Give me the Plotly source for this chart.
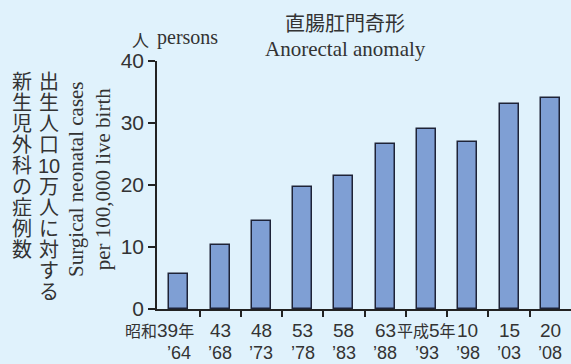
import plotly.graph_objects as go

# ---- data ----
era_labels = ["昭和39年", "43", "48", "53", "58", "63", "平成5年", "10", "15", "20"]
year_labels = ["’64", "’68", "’73", "’78", "’83", "’88", "’93", "’98", "’03", "’08"]
cases = [5.6, 10.3, 14.2, 19.7, 21.4, 26.6, 29.1, 27.0, 33.0, 34.0]
y_ticks = [0, 10, 20, 30, 40]

title_jp = "直腸肛門奇形"
title_en = "Anorectal anomaly"
ytitle_jp_1 = ["出", "生", "人", "口", "10", "万", "人", "に", "対", "す", "る"]
ytitle_jp_2 = ["新", "生", "児", "外", "科", "の", "症", "例", "数"]
ytitle_en = "Surgical neonatal cases<br>per 100,000 live birth"

# ---- layout geometry ----
W, H = 571, 364
ML, MR, MT, MB = 157, 0, 61, 55
PW, PH = W - ML - MR, H - MT - MB

def py(p):
    return (H - MB - p) / PH

def px(p):
    return (p - ML) / PW

BG = "rgb(224,242,252)"
TXT = "#333333"
SANS = "Liberation Sans, Arial, Noto Sans CJK JP"
CJK = "Noto Sans CJK JP"
SERIF = "Liberation Serif, Times New Roman, serif"

def cjk_small(s, size=16):
    out, buf = "", ""
    for ch in s:
        if ord(ch) > 0x2E80:
            buf += ch
        else:
            if buf:
                out += f"<span style='font-size:{size}px'>{buf}</span>"
                buf = ""
            out += ch
    if buf:
        out += f"<span style='font-size:{size}px'>{buf}</span>"
    return out

xs = list(range(len(cases)))

fig = go.Figure()
fig.add_trace(go.Bar(
    x=xs, y=cases, width=0.46,
    marker=dict(color="rgb(127,159,212)", line=dict(color="rgb(30,35,55)", width=1.5)),
    hoverinfo="skip", showlegend=False,
))

annotations = []
# x-axis labels (two rows)
for i, (a, b) in enumerate(zip(era_labels, year_labels)):
    common = dict(y=py(330), xref="x", yref="paper", text=cjk_small(a),
                  yanchor="middle", showarrow=False,
                  font=dict(family=SANS, size=19, color=TXT))
    if i == 0:
        annotations.append(dict(x=i, xanchor="right", xshift=17, **common))
    else:
        annotations.append(dict(x=i, xanchor="center", **common))
    annotations.append(dict(x=i, y=py(353), xref="x", yref="paper", text=b,
                            xanchor="center", yanchor="middle",
                            showarrow=False, font=dict(family=SANS, size=18, color=TXT)))

# titles
annotations.append(dict(x=px(345), y=py(23), xref="paper", yref="paper", text=title_jp,
                        showarrow=False, xanchor="center", yanchor="middle",
                        font=dict(family=CJK, size=20, color=TXT)))
annotations.append(dict(x=px(345), y=py(49), xref="paper", yref="paper", text=title_en,
                        showarrow=False, xanchor="center", yanchor="middle",
                        font=dict(family=SERIF, size=21, color=TXT)))
# unit
annotations.append(dict(x=px(140), y=py(40), xref="paper", yref="paper", text="人",
                        showarrow=False, xanchor="center", yanchor="middle",
                        font=dict(family=CJK, size=17, color=TXT)))
annotations.append(dict(x=px(155), y=py(38), xref="paper", yref="paper", text="persons",
                        showarrow=False, xanchor="left", yanchor="middle",
                        font=dict(family=SERIF, size=20, color=TXT)))
# english y title (rotated)
annotations.append(dict(x=px(89), y=py(179), xref="paper", yref="paper", text=ytitle_en,
                        showarrow=False, xanchor="center", yanchor="middle", textangle=-90,
                        font=dict(family=SERIF, size=21, color=TXT)))
# vertical japanese y title
for col, cx in ((ytitle_jp_1, 49), (ytitle_jp_2, 22)):
    for k, ch in enumerate(col):
        annotations.append(dict(x=px(cx), y=py(82 + 21 * k), xref="paper", yref="paper",
                                text=ch, showarrow=False, xanchor="center", yanchor="middle",
                                font=dict(family="Liberation Sans, " + CJK, size=20, color=TXT)))

fig.update_layout(
    width=W, height=H,
    margin=dict(l=ML, r=MR, t=MT, b=MB, pad=0),
    paper_bgcolor=BG, plot_bgcolor=BG,
    annotations=annotations,
    bargap=0,
    xaxis=dict(range=[-0.53, 9.5], showgrid=False, zeroline=False,
               showline=True, linecolor="#222222", linewidth=1.5,
               tickvals=[i + 0.5 for i in xs[:-1]], ticks="outside", ticklen=6,
               tickwidth=1.5, tickcolor="#222222", showticklabels=False),
    yaxis=dict(range=[0, 40], showgrid=False, zeroline=False,
               showline=True, linecolor="#222222", linewidth=1.5,
               tickvals=y_ticks, ticks="outside", ticklen=7, tickwidth=1.5,
               tickcolor="#222222",
               tickfont=dict(family="Liberation Sans, Arial", size=21, color=TXT)),
)

fig.write_html("out.html", config={"displayModeBar": False},
               post_script="document.body.style.margin='0px';document.body.style.overflow='hidden';document.body.style.background='" + BG + "';")
